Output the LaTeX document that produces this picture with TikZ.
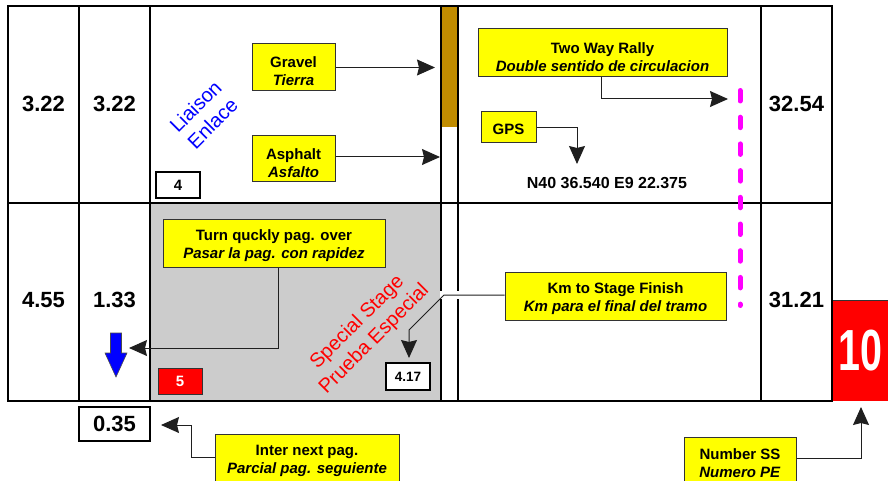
\documentclass[tikz,border=0pt]{standalone}
\usepackage{fontspec}
\setmainfont{Liberation Sans}
\usetikzlibrary{arrows.meta}
\definecolor{ybox}{HTML}{FFFF00}
\definecolor{brownbar}{HTML}{C08C00}
\definecolor{edgegray}{HTML}{333333}
\definecolor{graybg}{HTML}{CCCCCC}
\definecolor{magdash}{HTML}{FF00FF}
\definecolor{redbox}{HTML}{FF0000}
\definecolor{bluetxt}{HTML}{0000FF}
\begin{document}
\begin{tikzpicture}[x=1pt,y=-1pt,
  tab/.style={line width=2pt, draw=black},
  ybox/.style={draw=edgegray, line width=1pt, fill=ybox, inner sep=0pt},
  ylab/.style={align=center, inner sep=0pt, yshift=-4pt,
    font=\bfseries\fontsize{15}{18}\selectfont},
  conn/.style={draw=black!88, line width=1pt, -{Stealth[length=18pt,width=16pt,inset=2pt]}},
  num/.style={font=\bfseries\fontsize{22}{26}\selectfont, inner sep=0pt},
  smallbox/.style={draw=black, line width=1.5pt, fill=white, inner sep=0pt},
  rot/.style={rotate=45, align=center, font=\fontsize{20}{24}\selectfont, inner sep=0pt},
]
\useasboundingbox (0,0) rectangle (888,481);
\fill[white] (0,0) rectangle (888,481);
% fills
\fill[graybg] (150,203) rectangle (441,401);
\fill[brownbar] (441,6) rectangle (457.5,127);
\fill[redbox] (832,300) rectangle (888,401);
\draw[edgegray, line width=0.8pt] (832,300.4) -- (888,300.4);
% table
\draw[tab] (8,6) rectangle (832,401);
\foreach \xx in {79,150,441,458,761} \draw[tab] (\xx,6) -- (\xx,401);
\draw[tab] (8,203) -- (832,203);
\fill[white] (440,291) rectangle (459.5,299);
% magenta dashed
\draw[magdash, line width=5pt, line cap=round, dash pattern=on 10.5pt off 16.2pt] (740,90.5) -- (740,305.5);
% numbers
\node[num] (n1) at (43.5,104) {3.22};
\node[num] (n2) at (114.5,104) {3.22};
\node[num] (n3) at (796.5,104) {32.54};
\node[num] (n4) at (43.5,300) {4.55};
\node[num] (n5) at (114.5,300) {1.33};
\node[num] (n6) at (796.5,300) {31.21};
% small boxes
\node[smallbox, minimum width=44pt, minimum height=26pt, font=\bfseries\fontsize{15}{18}\selectfont] (b4) at (178,185) {4};
\node[draw=edgegray, line width=1pt, fill=redbox, text=white, inner sep=0pt, minimum width=44pt, minimum height=26pt, font=\bfseries\fontsize{15}{18}\selectfont] (b5) at (180,381) {5};
\node[smallbox, minimum width=44pt, minimum height=27pt, font=\bfseries\fontsize{13.5}{16}\selectfont] (b417) at (408,376.5) {4.17};
\node[smallbox, line width=2pt, minimum width=71pt, minimum height=34pt, font=\bfseries\fontsize{22}{26}\selectfont] (z035) at (114.5,424) {0.35};
\node[text=white, inner sep=0pt, xscale=0.68, font=\bfseries\fontsize{58}{60}\selectfont] (ss10) at (860.5,351) {10};
% rotated texts
\node[rot, text=bluetxt] (liaison) at (204,115) {Liaison\\Enlace};
\node[rot, text=redbox] (special) at (366,331) {Special Stage\\Prueba Especial};
% GPS text
\node[font=\bfseries\fontsize{16}{19}\selectfont, inner sep=0pt] (gpsc) at (607,183) {N40 36.540 E9 22.375};
% blue arrow
\draw[fill=bluetxt, draw=black!70, line width=0.6pt] (110.5,333) -- (121.5,333) -- (121.5,353) -- (127,353) -- (116,377) -- (105,353) -- (110.5,353) -- cycle;
% yellow boxes
\node[ybox, minimum width=83pt, minimum height=47pt, label={[ylab]center:{Gravel\\\textit{Tierra}}}] (gravel) at (293.5,67.5) {};
\node[ybox, minimum width=83pt, minimum height=46pt, label={[ylab]center:{Asphalt\\\textit{Asfalto}}}] (asphalt) at (293.5,159) {};
\node[ybox, minimum width=249pt, minimum height=48pt, label={[ylab]center:{Two Way Rally\\\textit{Double sentido de circulacion}}}] (twoway) at (602.5,53) {};
\node[ybox, minimum width=55pt, minimum height=31pt, label={[ylab, yshift=2pt]center:{GPS}}] (gps) at (508.5,127.5) {};
\node[ybox, minimum width=222pt, minimum height=48pt, label={[ylab, yshift=1.5pt]center:{Turn quckly pag. over\\\textit{Pasar la pag. con rapidez}}}] (turn) at (274,243) {};
\node[ybox, minimum width=221pt, minimum height=48pt, label={[ylab, yshift=1pt]center:{Km to Stage Finish\\\textit{Km para el final del tramo}}}] (km) at (615.5,296) {};
\node[ybox, minimum width=184pt, minimum height=52pt, label={[ylab, yshift=3pt]center:{Inter next pag.\\\textit{Parcial pag. seguiente}}}] (inter) at (307,460) {};
\node[ybox, minimum width=112pt, minimum height=50pt, label={[ylab, yshift=3pt]center:{Number SS\\\textit{Numero PE}}}] (nss) at (740,462) {};
% connector end points
\coordinate (gravelT) at (435,67.5);
\coordinate (asphaltT) at (440,157);
\coordinate (twowayT) at (728,99);
\coordinate (gpsT) at (577,164);
\coordinate (turnT) at (129,348);
\coordinate (kmA) at (444,295);
\coordinate (kmB) at (409,330);
\coordinate (kmT) at (409,358);
\coordinate (interA) at (191,457);
\coordinate (interT) at (161,425);
\coordinate (nssT) at (861,407);
% connectors
\draw[conn] (gravel.east) -- (gravelT);
\draw[conn] ([yshift=2pt]asphalt.east) -- (asphaltT);
\draw[conn] ([xshift=-1.5pt]twoway.south) |- (twowayT);
\draw[conn] (gps.east) -| (gpsT);
\draw[conn] ([xshift=4pt]turn.south) |- (turnT);
\draw[conn] ([yshift=1pt]km.west) -- (kmA) -- (kmB) -- (kmT);
\draw[conn] ([yshift=3pt]inter.west) -- (interA) |- (interT);
\draw[conn] ([yshift=4pt]nss.east) -| (nssT);
\end{tikzpicture}
\end{document}
